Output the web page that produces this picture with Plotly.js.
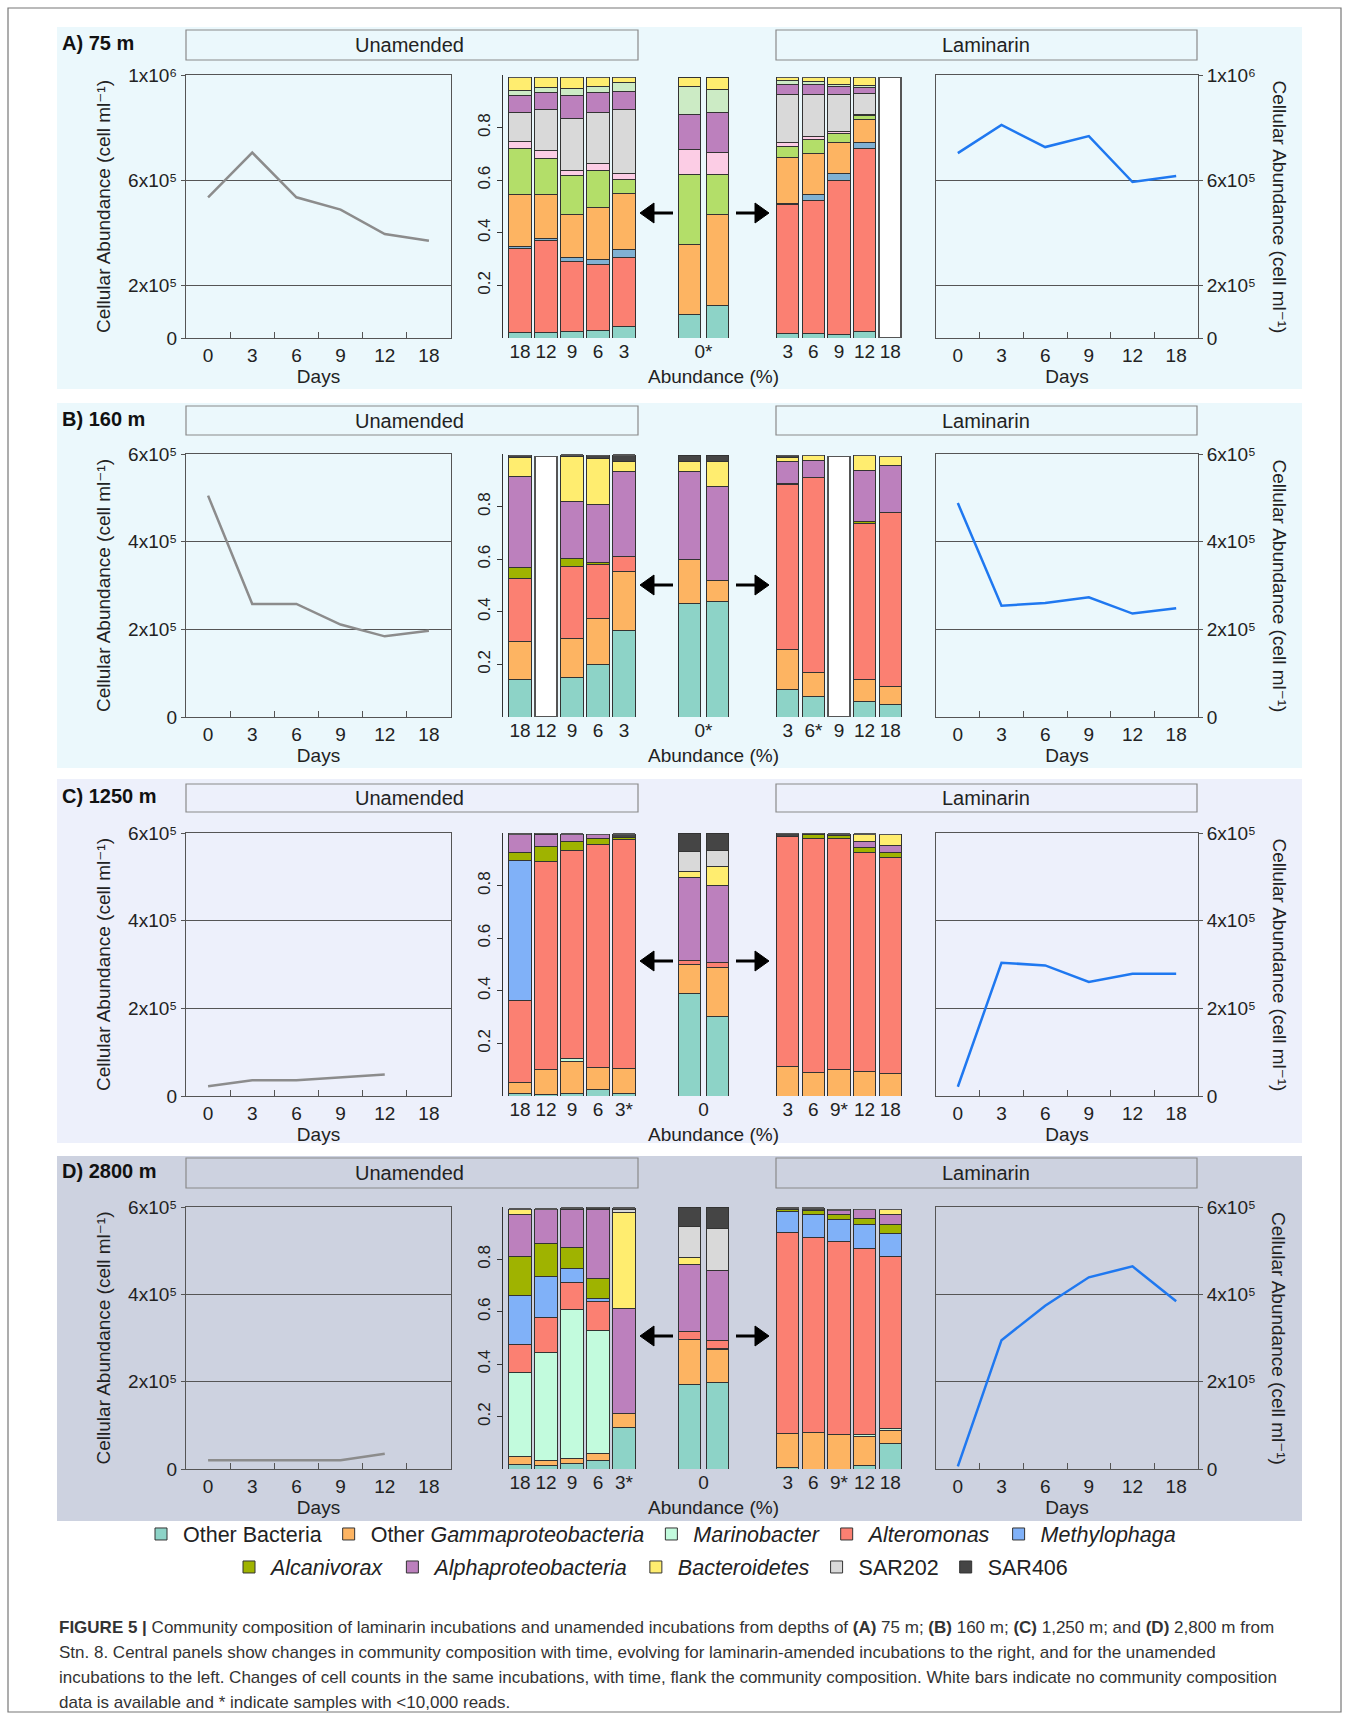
<!DOCTYPE html>
<html><head><meta charset="utf-8">
<script src="https://cdn.plot.ly/plotly-3.0.1.min.js"></script>
<style>html,body{margin:0;padding:0;background:#fff}#chart{width:1349px;height:1719px}</style>
</head><body><div id="chart"></div>
<script>
// ---------------- DATA ----------------
const days = ['0','3','6','9','12','18'];

// Cellular abundance (cells ml-1)
const cellsA_unamended = [535000, 705000, 535000, 488000, 395000, 370000];
const cellsA_laminarin = [703000, 810000, 726000, 768000, 593000, 616000];
const cellsB_unamended = [505000, 258000, 258000, 211000, 184000, 197000];
const cellsB_laminarin = [488000, 254000, 260000, 273000, 236000, 248000];
const cellsC_unamended = [22000, 36000, 36000, 43000, 49000, null];
const cellsC_laminarin = [21000, 304000, 298000, 260000, 279000, 279000];
const cellsD_unamended = [20000, 20000, 20000, 20000, 35000, null];
const cellsD_laminarin = [6000, 295000, 374000, 439000, 464000, 384000];

// Sample labels for the composition bars
const unamDaysA = ['18','12','9','6','3'];
const lamDaysA  = ['3','6','9','12','18'];
const unamDaysB = ['18','12','9','6','3'];
const lamDaysB  = ['3','6*','9','12','18'];
const unamDaysC = ['18','12','9','6','3*'];
const lamDaysC  = ['3','6','9*','12','18'];
const unamDaysD = ['18','12','9','6','3*'];
const lamDaysD  = ['3','6','9*','12','18'];
const day0Replicates = [1, 2];
const day0Labels = ['0*','0*','0','0'];

// Taxa (stacking order, bottom to top)
const taxaA = ['Other Bacteria','Alteromonas','Methylophaga','Other Gammaproteobacteria','Unlisted taxon (lime)','Unlisted taxon (pink)','SAR202','Alphaproteobacteria','Unlisted taxon (pale green)','Bacteroidetes'];
const taxaMain = ['Other Bacteria','Other Gammaproteobacteria','Marinobacter','Alteromonas','Methylophaga','Alcanivorax','Alphaproteobacteria','Bacteroidetes','SAR202','SAR406'];
const legendNames = ['Other Bacteria','Other <i>Gammaproteobacteria</i>','<i>Marinobacter</i>','<i>Alteromonas</i>','<i>Methylophaga</i>','<i>Alcanivorax</i>','<i>Alphaproteobacteria</i>','<i>Bacteroidetes</i>','SAR202','SAR406'];
const legendRow = [1,1,1,1,1,2,2,2,2,2];
const colorsA = ['#8dd3c7','#fb8072','#80b1d3','#fdb462','#b3de69','#fccde5','#d9d9d9','#bc80bd','#ccebc5','#ffed6f'];
const colorsMain = ['#8dd3c7','#fdb462','#c2fbdd','#fb8072','#80b1f8','#9fb300','#bc80bd','#ffed6f','#d9d9d9','#454545'];

// Relative abundance (fraction) — rows follow taxa order, columns follow sample labels
const compA_unam = [
  [.020,.020,.024,.027,.043],[.321,.349,.266,.251,.265],[.006,.010,.018,.019,.030],[.199,.167,.162,.199,.212],
  [.175,.137,.146,.139,.051],[.025,.031,.019,.027,.024],[.111,.153,.200,.195,.244],[.064,.067,.086,.077,.068],
  [.019,.018,.028,.023,.035],[.050,.038,.041,.033,.018]];
const compA_day0 = [[.090,.123],[0,0],[0,0],[.264,.348],[.266,.149],[.095,.085],[0,0],[.135,.153],[.106,.085],[.034,.047]];
const compA_lam = [
  [.018,.018,.014,.024,0],[.488,.503,.584,.697,0],[.004,.023,.028,.022,0],[.176,.159,.118,.086,0],
  [.044,.050,.033,.016,0],[.014,.013,.010,.005,0],[.180,.160,.139,.080,0],[.038,.039,.031,.024,0],
  [.018,.012,.008,.005,0],[.010,.013,.025,.031,0]];
const noDataA_unam = [0,0,0,0,0];
const noDataA_lam = [0,0,0,0,.99];

const compB_unam = [
  [.142,0,.150,.200,.330],[.144,0,.147,.173,.225],[0,0,0,0,0],[.239,0,.275,.205,.057],[0,0,0,0,0],
  [.043,0,.029,.010,0],[.348,0,.220,.221,.321],[.071,0,.170,.174,.040],[0,0,0,0,0],[.007,0,.005,.011,.023]];
const compB_day0 = [[.432,.441],[.165,.077],[0,0],[0,0],[0,0],[0,0],[.338,.360],[.036,.093],[0,0],[.025,.025]];
const compB_lam = [
  [.106,.077,0,.058,.046],[.149,.093,0,.083,.069],[0,0,0,0,0],[.630,.740,0,.594,.663],[0,0,0,0,0],
  [.004,0,0,.008,0],[.084,.067,0,.196,.178],[.014,.017,0,.055,.035],[0,0,0,0,0],[.007,0,0,0,0]];
const noDataB_unam = [0,.99,0,0,0];
const noDataB_lam = [0,0,.99,0,0];

const compC_unam = [
  [.009,.005,.009,.024,.009],[.043,.095,.122,.083,.094],[0,0,.011,0,0],[.313,.792,.792,.851,.871],[.530,0,0,0,0],
  [.031,.057,.034,.023,.009],[.071,.045,.028,.013,0],[0,0,0,0,0],[0,0,0,0,0],[0,.004,0,0,.013]];
const compC_day0 = [[.390,.301],[.110,.189],[0,0],[.015,.016],[0,0],[0,0],[.317,.296],[.021,.070],[.077,.062],[.070,.066]];
const compC_lam = [
  [0,0,0,0,0],[.114,.088,.100,.092,.085],[0,0,0,0,0],[.873,.890,.881,.834,.823],[0,0,0,0,0],
  [0,.016,.010,.017,.018],[0,0,0,.025,.027],[0,0,0,.028,.041],[0,0,0,0,0],[.013,.004,.005,0,0]];
const noDataC_unam = [0,0,0,0,0];
const noDataC_lam = [0,0,0,0,0];

const compD_unam = [
  [.019,.013,.020,.033,.160],[.027,.020,.022,.028,.053],[.323,.412,.568,.469,0],[.108,.135,.101,.110,0],[.186,.155,.056,.010,0],
  [.149,.124,.080,.076,0],[.159,.133,.142,.263,.399],[.021,0,0,0,.368],[0,0,0,0,.010],[0,0,.007,.009,.006]];
const compD_day0 = [[.324,.330],[.172,.126],[0,.005],[.027,.031],[0,0],[0,0],[.258,.266],[.028,0],[.117,.161],[.074,.081]];
const compD_lam = [
  [.006,0,0,.014,.096],[.128,.139,.133,.110,.051],[0,0,0,.006,.009],[.770,.746,.735,.713,.655],[.080,.086,.084,.089,.086],
  [.008,.015,.019,.025,.035],[0,0,.018,.033,.041],[0,0,0,0,.017],[0,0,0,0,0],[.004,.010,0,0,0]];
const noDataD_unam = [0,0,0,0,0];
const noDataD_lam = [0,0,0,0,0];

const panelTitles = ['A) 75 m','B) 160 m','C) 1250 m','D) 2800 m'];
const yTickTextA = ['0','2x10\u2075','6x10\u2075','1x10\u2076'];
const yTickTextBCD = ['0','2x10\u2075','4x10\u2075','6x10\u2075'];
const cellTitle = 'Cellular Abundance (cell ml\u207B\u00B9)';

// ---------------- LAYOUT HELPERS ----------------
const W = 1349, H = 1719;
const FONT = 'Liberation Sans, Arial, Helvetica, DejaVu Sans, sans-serif';
const TXT = '#222';
const fx = px => px / W;
const fy = py => 1 - py / H;

const frameTop = [75, 454, 833, 1207];
const frameBot = [338, 717, 1096, 1469];
const bgTop = [27, 403, 779, 1156];
const bgBot = [389, 768, 1143, 1521];
const boxTop = [30, 406, 784, 1158];
const boxBot = [60, 435, 812, 1188];
const bgColors = ['#ebf8fc','#ebf8fc','#edf0fb','#cdd2e0'];

const panels = [
  {unam: cellsA_unamended, lam: cellsA_laminarin, ymax: 1e6, tv:[0,2e5,6e5,1e6], tt: yTickTextA,
   taxa: taxaA, colors: colorsA, comps:[compA_unam, compA_day0, compA_lam], cats:[unamDaysA, lamDaysA], nd:[noDataA_unam, noDataA_lam]},
  {unam: cellsB_unamended, lam: cellsB_laminarin, ymax: 6e5, tv:[0,2e5,4e5,6e5], tt: yTickTextBCD,
   taxa: taxaMain, colors: colorsMain, comps:[compB_unam, compB_day0, compB_lam], cats:[unamDaysB, lamDaysB], nd:[noDataB_unam, noDataB_lam]},
  {unam: cellsC_unamended, lam: cellsC_laminarin, ymax: 6e5, tv:[0,2e5,4e5,6e5], tt: yTickTextBCD,
   taxa: taxaMain, colors: colorsMain, comps:[compC_unam, compC_day0, compC_lam], cats:[unamDaysC, lamDaysC], nd:[noDataC_unam, noDataC_lam]},
  {unam: cellsD_unamended, lam: cellsD_laminarin, ymax: 6e5, tv:[0,2e5,4e5,6e5], tt: yTickTextBCD,
   taxa: taxaMain, colors: colorsMain, comps:[compD_unam, compD_day0, compD_lam], cats:[unamDaysD, lamDaysD], nd:[noDataD_unam, noDataD_lam]}
];

const data = [];
const legendBase = {orientation: 'h', xanchor: 'center', yanchor: 'middle', itemwidth: 34,
  font: {family: FONT, size: 21.5, color: TXT}, bgcolor: 'rgba(0,0,0,0)', traceorder: 'normal', itemclick: false};
const layout = {
  width: W, height: H, margin: {l:0, r:0, t:0, b:0},
  paper_bgcolor: '#ffffff', plot_bgcolor: 'rgba(0,0,0,0)',
  barmode: 'stack', font: {family: FONT, color: TXT, size: 18},
  showlegend: true,
  legend: Object.assign({}, legendBase, {x: fx(660), y: fy(1534)}),
  legend2: Object.assign({}, legendBase, {x: fx(650), y: fy(1567)}),
  shapes: [], annotations: []
};

const axKey = (c, n) => (n === 1 ? c + 'axis' : c + 'axis' + n);
const axRef = (c, n) => (n === 1 ? c : c + n);
const note = (text, xpx, ypx, opts) => Object.assign({text: text, xref: 'paper', yref: 'paper', x: fx(xpx), y: fy(ypx),
  xanchor: 'center', yanchor: 'middle', showarrow: false, font: {size: 19, family: FONT, color: TXT}}, opts || {});

const legendShown = {};

panels.forEach((P, p) => {
  const base = p * 5;
  const n = [1,2,3,4,5].map(k => base + k);
  const yd = [fy(frameBot[p]), fy(frameTop[p])];

  // background + heading boxes
  layout.shapes.push({type:'rect', xref:'paper', yref:'paper', layer:'below',
    x0: fx(57), x1: fx(1302), y0: fy(bgBot[p]), y1: fy(bgTop[p]), fillcolor: bgColors[p], line: {width: 0}});
  layout.shapes.push({type:'rect', xref:'paper', yref:'paper', layer:'below',
    x0: fx(186), x1: fx(638), y0: fy(boxBot[p]), y1: fy(boxTop[p]), line: {color:'#8a8a8a', width: 1.2}});
  layout.shapes.push({type:'rect', xref:'paper', yref:'paper', layer:'below',
    x0: fx(776), x1: fx(1197), y0: fy(boxBot[p]), y1: fy(boxTop[p]), line: {color:'#8a8a8a', width: 1.2}});
  const boxMid = (boxTop[p] + boxBot[p]) / 2;
  layout.annotations.push(note('Unamended', 409, boxMid, {font:{size:20, family:FONT, color:TXT}}));
  layout.annotations.push(note('Laminarin', 986, boxMid, {font:{size:20, family:FONT, color:TXT}}));
  layout.annotations.push(note('<b>' + panelTitles[p] + '</b>', 60, boxMid - 2, {xanchor: 'left', font:{size:20, family:FONT, color:'#111'}}));

  // ---- line plots ----
  const lineX = (dom, n1) => ({
    domain: dom, anchor: axRef('y', n1), type: 'category', categoryorder: 'array', categoryarray: days,
    range: [-0.5, 5.5], tickson: 'boundaries', ticks: 'inside', ticklen: 6, tickcolor: '#555',
    showline: true, mirror: true, linecolor: '#555', linewidth: 1, showgrid: false, zeroline: false,
    tickfont: {size: 19, family: FONT, color: TXT},
    title: {text: 'Days', font: {size: 19, family: FONT, color: TXT}, standoff: 0}
  });
  const lineY = (side, n1) => ({
    domain: yd, anchor: axRef('x', n1), side: side, range: [0, P.ymax], tickmode: 'array', tickvals: P.tv, ticktext: P.tt,
    ticks: 'outside', ticklen: 4, tickcolor: '#555', showline: true, mirror: true, linecolor: '#555', linewidth: 1,
    showgrid: true, gridcolor: '#555', gridwidth: 1, zeroline: false, tickfont: {size: 19, family: FONT, color: TXT}
  });
  layout[axKey('x', n[0])] = lineX([fx(186), fx(451)], n[0]);
  layout[axKey('y', n[0])] = Object.assign(lineY('left', n[0]), {
    title: {text: cellTitle, font: {size: 19, family: FONT, color: TXT}, standoff: 12}});
  layout[axKey('x', n[4])] = lineX([fx(936), fx(1198)], n[4]);
  layout[axKey('y', n[4])] = lineY('right', n[4]);
  layout.annotations.push(note(cellTitle, 1279, (frameTop[p] + frameBot[p]) / 2, {textangle: 90}));

  data.push({type:'scatter', mode:'lines', x: days, y: P.unam, xaxis: axRef('x', n[0]), yaxis: axRef('y', n[0]),
    line: {color:'#8c8c8c', width: 2.5}, showlegend: false, name: 'Unamended', connectgaps: false});
  data.push({type:'scatter', mode:'lines', x: days, y: P.lam, xaxis: axRef('x', n[4]), yaxis: axRef('y', n[4]),
    line: {color:'#1f78f0', width: 2.5}, showlegend: false, name: 'Laminarin', connectgaps: false});

  // ---- bar subplots ----
  const barX = (dom, cats, n1) => ({domain: dom, anchor: axRef('y', n1), type: 'category', categoryorder: 'array', categoryarray: cats,
    showline: false, ticks: '', showgrid: false, zeroline: false, tickfont: {size: 19, family: FONT, color: TXT}});
  layout[axKey('x', n[1])] = barX([fx(507), fx(637)], P.cats[0], n[1]);
  layout[axKey('y', n[1])] = {domain: yd, anchor: 'free', position: fx(502), range: [0, 1], showline: true, linecolor: '#333', linewidth: 1.2,
    ticks: 'outside', ticklen: 5, tickcolor: '#333', tickmode: 'array', tickvals: [0.2, 0.4, 0.6, 0.8], ticktext: ['0.2','0.4','0.6','0.8'],
    tickangle: -90, showgrid: false, zeroline: false, tickfont: {size: 17, family: FONT, color: TXT}};
  layout[axKey('x', n[2])] = {domain: [fx(676), fx(731)], anchor: axRef('y', n[2]), type: 'linear', range: [0.5, 2.5],
    tickmode: 'array', tickvals: [1.5], ticktext: [day0Labels[p]], showline: false, ticks: '', showgrid: false, zeroline: false,
    tickfont: {size: 19, family: FONT, color: TXT}};
  layout[axKey('y', n[2])] = {domain: yd, anchor: axRef('x', n[2]), range: [0, 1], showline: false, showticklabels: false, ticks: '', showgrid: false, zeroline: false};
  layout[axKey('x', n[3])] = barX([fx(775), fx(903)], P.cats[1], n[3]);
  layout[axKey('y', n[3])] = {domain: yd, anchor: axRef('x', n[3]), range: [0, 1], showline: false, showticklabels: false, ticks: '', showgrid: false, zeroline: false};

  const groups = [
    {x: P.cats[0], comp: P.comps[0], n: n[1], w: 0.85},
    {x: day0Replicates, comp: P.comps[1], n: n[2], w: 0.8},
    {x: P.cats[1], comp: P.comps[2], n: n[3], w: 0.86}
  ];
  groups.forEach((g, gi) => {
    P.taxa.forEach((taxon, ti) => {
      const mainIdx = taxaMain.indexOf(taxon);
      const isMain = (p > 0 && mainIdx >= 0);
      const show = isMain && !legendShown[taxon];
      if (show) legendShown[taxon] = true;
      const tr = {type: 'bar', x: g.x, y: g.comp[ti], xaxis: axRef('x', g.n), yaxis: axRef('y', g.n), width: g.w,
        name: isMain ? legendNames[mainIdx] : taxon, legendgroup: taxon, showlegend: show,
        marker: {color: P.colors[ti], line: {color: '#333', width: 1}}};
      if (isMain) tr.legend = legendRow[mainIdx] === 1 ? 'legend' : 'legend2';
      data.push(tr);
    });
    if (gi !== 1) {
      data.push({type: 'bar', x: g.x, y: P.nd[gi === 0 ? 0 : 1], xaxis: axRef('x', g.n), yaxis: axRef('y', g.n), width: g.w,
        name: 'No data', showlegend: false, marker: {color: '#ffffff', line: {color: '#555', width: 1.5}}});
    }
  });

  // arrows (drawn as shapes) and Abundance label
  const ay = [213, 585, 961, 1336][p];
  const P2 = (x, y) => fx(x) + ',' + fy(y);
  layout.shapes.push({type: 'line', xref: 'paper', yref: 'paper', x0: fx(652), x1: fx(673), y0: fy(ay), y1: fy(ay), line: {color: '#000', width: 3}});
  layout.shapes.push({type: 'path', xref: 'paper', yref: 'paper', path: 'M' + P2(640, ay) + ' L' + P2(654, ay - 10) + ' L' + P2(654, ay + 10) + ' Z',
    fillcolor: '#000', line: {color: '#000', width: 1}});
  layout.shapes.push({type: 'line', xref: 'paper', yref: 'paper', x0: fx(736), x1: fx(757), y0: fy(ay), y1: fy(ay), line: {color: '#000', width: 3}});
  layout.shapes.push({type: 'path', xref: 'paper', yref: 'paper', path: 'M' + P2(769, ay) + ' L' + P2(755, ay - 10) + ' L' + P2(755, ay + 10) + ' Z',
    fillcolor: '#000', line: {color: '#000', width: 1}});
  layout.annotations.push(note('Abundance (%)', 713, frameBot[p] + 38));
});

// Outer frame
layout.shapes.push({type: 'rect', xref: 'paper', yref: 'paper', layer: 'below', x0: fx(8), x1: fx(1341), y0: fy(1712), y1: fy(8),
  line: {color: '#777', width: 1.2}});

// Caption
const captionLines = [
  '<b>FIGURE 5 |</b> Community composition of laminarin incubations and unamended incubations from depths of <b>(A)</b> 75 m; <b>(B)</b> 160 m; <b>(C)</b> 1,250 m; and <b>(D)</b> 2,800 m from',
  'Stn. 8. Central panels show changes in community composition with time, evolving for laminarin-amended incubations to the right, and for the unamended',
  'incubations to the left. Changes of cell counts in the same incubations, with time, flank the community composition. White bars indicate no community composition',
  'data is available and * indicate samples with &lt;10,000 reads.'
];
const captionY = [1627, 1652, 1677, 1702];
captionLines.forEach((t, i) => {
  layout.annotations.push(note(t, 57, captionY[i], {xanchor: 'left', font: {size: 17, family: FONT, color: '#333'}}));
});

Plotly.newPlot('chart', data, layout, {staticPlot: true});
</script>
</body></html>
